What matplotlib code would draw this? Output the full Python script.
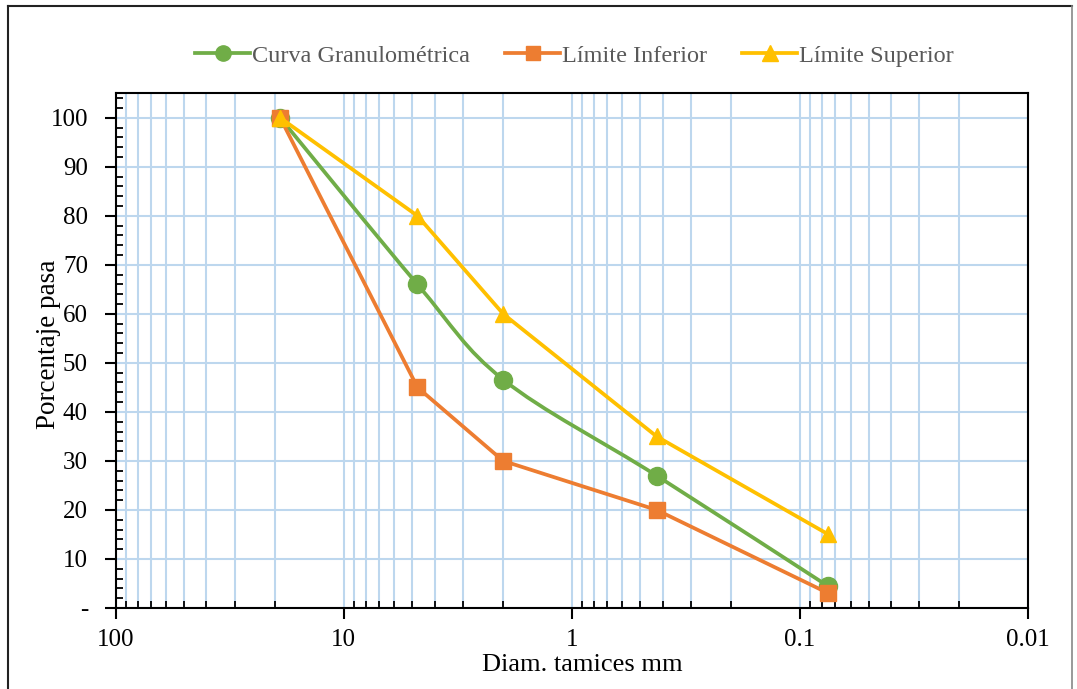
import numpy as np
import matplotlib
matplotlib.use("Agg")
import matplotlib.pyplot as plt
from matplotlib.path import Path
from matplotlib.patches import PathPatch
from matplotlib.lines import Line2D
from matplotlib.ticker import FixedLocator, FuncFormatter, LogLocator, MultipleLocator

plt.rcParams['font.family'] = ['Liberation Serif', 'DejaVu Serif']

# Data
sieve_mm = [19.0, 4.75, 2.0, 0.425, 0.075]
curva = [100, 66, 46.6, 27, 4.4]
lim_inf = [100, 45, 30, 20, 3]
lim_sup = [100, 80, 60, 35, 15]
labels = ["Curva Granulométrica", "Límite Inferior", "Límite Superior"]

GREEN = "#70AD47"
ORANGE = "#ED7D31"
YELLOW = "#FFC000"
GRID = "#BDD7EE"

fig = plt.figure(figsize=(10.77, 6.89), dpi=100)
ax = fig.add_axes([0.1074, 0.1176, 0.9545 - 0.1074, 0.8646 - 0.1176])

ax.set_xscale('log')
ax.set_xlim(100, 0.01)
ax.set_ylim(0, 105)

# Smoothed curve (Excel-like) via Bezier in (log x, y) space
lx = np.log10(np.array(sieve_mm))
yy = np.array(curva, dtype=float)
n = len(lx)
verts = [(sieve_mm[0], curva[0])]
codes = [Path.MOVETO]
for i in range(n - 1):
    p0 = np.array([lx[max(i - 1, 0)], yy[max(i - 1, 0)]])
    p1 = np.array([lx[i], yy[i]])
    p2 = np.array([lx[i + 1], yy[i + 1]])
    p3 = np.array([lx[min(i + 2, n - 1)], yy[min(i + 2, n - 1)]])
    c1 = p1 + (p2 - p0) / 6.0
    c2 = p2 - (p3 - p1) / 6.0
    verts += [(10 ** c1[0], c1[1]), (10 ** c2[0], c2[1]), (10 ** p2[0], p2[1])]
    codes += [Path.CURVE4] * 3
patch = PathPatch(Path(verts, codes), facecolor='none', edgecolor=GREEN, lw=2.7,
                  zorder=3, capstyle='round', joinstyle='round')
ax.add_patch(patch)
ax.plot(sieve_mm, curva, linestyle='none', marker='o', markersize=13,
        color=GREEN, zorder=4)

ax.plot(sieve_mm, lim_inf, color=ORANGE, lw=2.7, marker='s', markersize=11,
        zorder=5, solid_capstyle='round')
ax.plot(sieve_mm, lim_sup, color=YELLOW, lw=2.7, marker='^', markersize=11.5,
        zorder=6, solid_capstyle='round')

# Ticks
ax.xaxis.set_major_locator(FixedLocator([100, 10, 1, 0.1, 0.01]))
ax.xaxis.set_major_formatter(FuncFormatter(lambda v, p: {100: "100", 10: "10", 1: "1", 0.1: "0.1", 0.01: "0.01"}.get(round(v, 4), "")))
ax.xaxis.set_minor_locator(LogLocator(base=10, subs=np.arange(2, 10), numticks=20))
ax.xaxis.set_minor_formatter(FuncFormatter(lambda v, p: ""))
ax.yaxis.set_major_locator(FixedLocator(list(range(0, 101, 10))))
ax.yaxis.set_major_formatter(FuncFormatter(lambda v, p: "-" if v == 0 else f"{int(v)}"))
ax.yaxis.set_minor_locator(MultipleLocator(2))

ax.tick_params(axis='both', which='major', direction='out', length=8, width=1.5,
               labelsize=18, colors='black', pad=6)
ax.tick_params(axis='both', which='minor', direction='in', length=5, width=1.3)
ax.tick_params(axis='x', which='major', pad=7)
ax.tick_params(axis='y', which='major', pad=12)

ax.grid(True, which='major', axis='y', color=GRID, lw=1.5, zorder=0)
ax.grid(True, which='both', axis='x', color=GRID, lw=1.5, zorder=0)
ax.set_axisbelow(True)

for s in ax.spines.values():
    s.set_linewidth(1.5)
    s.set_color('black')

ax.set_xlabel("Diam. tamices mm", fontsize=19, va='center')
ax.set_ylabel("Porcentaje pasa", fontsize=19.5, va='center')
ax.xaxis.set_label_coords(0.511, -0.111)
ax.yaxis.set_label_coords(-0.0741, 0.513)

handles = [
    Line2D([], [], color=GREEN, lw=2.7, marker='o', markersize=11),
    Line2D([], [], color=ORANGE, lw=2.7, marker='s', markersize=10),
    Line2D([], [], color=YELLOW, lw=2.7, marker='^', markersize=11),
]
leg = fig.legend(handles, labels, loc='center', bbox_to_anchor=(0.5334, 0.919),
                 ncol=3, frameon=False, fontsize=17.5, handlelength=2.25,
                 handletextpad=0.08, columnspacing=1.45, labelcolor='#595959')

# Figure border
fig.add_artist(Line2D([0.0075, 0.0075], [0.0, 0.991], transform=fig.transFigure, color='#222222', lw=1.5))
fig.add_artist(Line2D([0.0075, 0.9955], [0.991, 0.991], transform=fig.transFigure, color='#222222', lw=1.5))
fig.add_artist(Line2D([0.9955, 0.9955], [0.0, 0.991], transform=fig.transFigure, color='#888888', lw=1.2))

fig.savefig("out.png", dpi=100)
